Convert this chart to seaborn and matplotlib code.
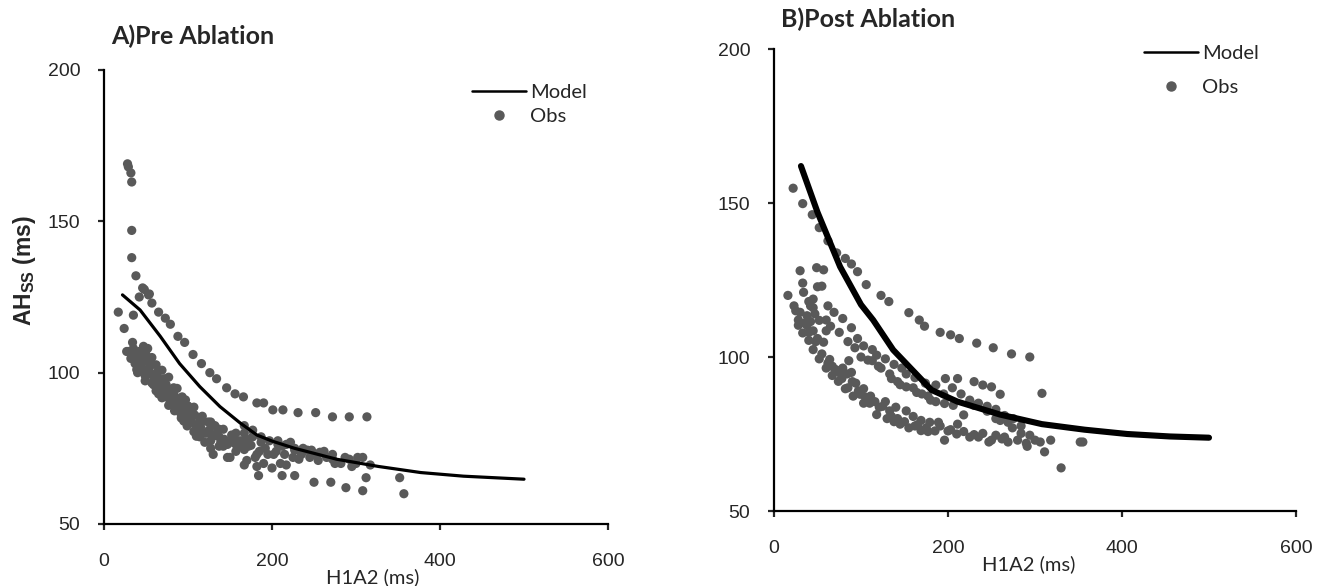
import matplotlib
matplotlib.use("Agg")
import matplotlib.pyplot as plt
import seaborn as sns
import pandas as pd
from matplotlib.lines import Line2D

# --- data ---
pre_model_h1a2 = [22, 43, 67, 90, 114, 138, 162, 182, 200, 227, 277, 327, 377, 428, 500]
pre_model_ah = [125.7, 120.7, 112, 103, 95.4, 88.8, 83.4, 79.4, 77.4, 75, 71.4, 69, 67, 65.8, 64.8]

pre_obs_h1a2 = [
    28, 29, 32, 33, 33, 33, 38, 46, 54, 42, 17, 35, 24, 57, 48, 53,
    65, 73, 79, 88, 96, 106, 116, 126, 134, 146, 156, 166, 182, 190, 201, 213,
    231, 252, 272, 292, 313,
    29, 42, 34, 47, 39, 49, 54, 62, 67, 74, 82, 92, 102, 112, 127, 137,
    147, 167, 182, 184, 200, 212, 227, 250, 270, 288, 308, 312, 352, 357,
    317, 308, 292, 282, 272, 262, 252, 247, 237, 232, 227, 222, 212, 217, 207, 202,
    197, 192, 187, 180, 177, 172, 167, 162, 157, 152, 147, 142, 137, 132, 127, 124,
    119, 114, 109, 104, 99, 94, 89, 84, 79, 74, 69, 64, 59, 54, 49, 44,
    37, 32, 52, 57, 62, 69, 77, 87, 97, 107, 117, 127, 137, 157, 167, 177,
    187, 207, 217, 227, 242, 257, 272, 287, 302, 167, 157, 182, 142, 114, 107, 99,
    92, 84, 77, 69, 62, 57, 49, 42, 37, 27,
    35, 40, 45, 50, 55, 58, 63, 66, 70, 72, 76, 80, 83, 86, 90, 93,
    97, 100, 104, 108, 111, 115, 118, 122, 125, 130, 134, 139, 143, 150, 155, 160,
    165, 170, 175, 185, 195, 205, 215, 225, 235, 245, 255, 265, 275, 295, 300, 40,
    47, 65, 85, 95, 110, 120, 130, 150, 170, 190, 210,
]
pre_obs_ah = [
    169, 168, 166, 163, 147, 138, 132, 128, 126, 125, 120, 119, 114.6, 123, 127.5, 125.7,
    120, 118, 116, 112, 110, 106, 103, 100, 98, 95, 93, 92, 90, 90, 87.7, 87.7,
    86.8, 86.8, 85.4, 85.4, 85.4,
    107, 107, 110, 108.7, 101, 104.7, 100, 97, 94.8, 92, 89.8, 86, 83.7, 80, 77.5, 75.7,
    72, 69.5, 69, 66, 68.5, 66, 66, 63.8, 63.8, 62, 61, 65.3, 65.3, 60,
    69.5, 72, 71.4, 70, 71.4, 74, 73, 74.4, 75, 71.4, 74.4, 77, 75.7, 69.5, 76.3, 73,
    77.5, 75, 77, 72, 78.8, 75.7, 80, 77.5, 74, 79.4, 76.3, 81.3, 78.8, 82.5, 75, 83.7,
    80, 85, 82.5, 87.4, 84.3, 89.8, 87.4, 92.3, 90.5, 96, 93, 98.5, 96, 101.6, 99, 104.7,
    103, 104.7, 108, 105, 102.6, 100.8, 98.5, 94.8, 91, 88.6, 85.6, 83.7, 81.3, 80, 82.5, 81,
    78.8, 77.5, 76.3, 75, 74.4, 73.7, 73, 72, 72, 74.6, 76.3, 73, 75.7, 78.8, 80.5, 82.4,
    85, 87.4, 89.2, 91.7, 94, 96.6, 97.3, 101, 106.6, 107,
    108, 105, 103, 106, 103, 99, 100, 97, 96, 98, 94, 93, 95, 91, 89, 92,
    87, 89, 85, 86, 83, 82, 84, 80, 81, 79, 80, 77, 78, 77, 78, 76,
    77, 78, 76, 74, 73, 74, 73, 72, 73, 72, 71, 72, 70, 69, 70, 100,
    101, 93, 88, 84, 79, 77, 73, 72, 71, 70, 70,
]

post_model_h1a2 = [31, 50, 76, 100, 114, 137, 160, 181, 211, 260, 308, 357, 406, 455, 500]
post_model_ah = [162, 147, 129.3, 117, 112, 102.3, 95.5, 89.3, 85.5, 81.3, 78.2, 76.4, 75, 74.2, 73.8]

post_obs_h1a2 = [
    22, 33, 44, 52, 62, 72, 82, 89, 96, 106, 123, 132, 155, 167, 173, 191,
    203, 213, 233, 252, 273, 294, 308, 318, 330, 352, 355,
    30, 33, 49, 57, 50, 55, 62, 69, 79, 89, 96, 103, 113, 118, 128, 138,
    147, 152, 162, 174, 186, 197, 211, 230, 240, 250, 260, 113, 123, 133, 142, 152,
    164, 177, 186, 196, 206, 218, 230, 245, 255, 260, 269, 274, 284, 284, 294, 306,
    311, 291, 89, 77, 72,
    16, 23, 30, 38, 42, 38, 45, 47, 52, 50, 57, 60, 64, 67, 74, 79,
    84, 86, 94, 99, 103, 111, 116, 121, 128, 133, 135, 140, 145, 152, 160, 169,
    169, 179, 189, 196, 203, 211, 218, 230, 240, 247, 255, 262, 269, 191, 177, 162,
    142, 118, 103, 91, 82, 74, 67, 60, 52, 45, 40, 33, 28, 42, 45, 34,
    25, 28, 35, 40, 48, 55, 62, 70, 78, 85, 90, 97, 105, 110, 125, 130,
    138, 150, 155, 165, 175, 185, 200, 210, 225, 235, 250, 265, 280, 290, 300,
    40, 45, 60, 65, 75, 85, 93, 100, 108, 120, 135, 145, 160, 170, 180, 195,
    205, 215, 225, 235, 245, 255, 265, 275,
]
post_obs_ah = [
    154.8, 149.8, 146.2, 142, 137.7, 133.8, 132, 130.2, 127.7, 123.5, 120, 118, 114.4, 112, 110, 108,
    107.2, 106, 104.5, 103, 101, 100, 88.2, 73, 64, 72.4, 72.4,
    128, 124, 129, 128.3, 122.8, 123, 116.6, 114.5, 112.5, 109.5, 106, 103.6, 102.4, 100.6, 99.4, 97.6,
    96.4, 94.5, 93.3, 91.5, 90.9, 93, 93, 92, 90.9, 90.3, 87.9, 98.8, 96.4, 94.5, 92, 90.3,
    88.5, 87.3, 85.5, 84.9, 84.3, 81.2, 84.3, 82.4, 80, 79.4, 78.8, 77, 77.6, 75.2, 74.6, 72.4,
    69.2, 71, 95, 94.5, 95.7,
    120, 116.6, 114.5, 113.4, 111.5, 110.3, 108.5, 114, 111.9, 106, 104.8, 108.5, 99.2, 97, 95.2, 96.4,
    94.5, 98.8, 91.5, 87.9, 89.7, 87.3, 85.5, 83.7, 85.5, 82.5, 80.7, 83.7, 78.2, 82.5, 80.7, 79.4,
    76.1, 78.8, 78.8, 73, 76.4, 78.2, 75.8, 74.8, 75.2, 72.4, 74.6, 73.4, 72.4, 77.6, 75.8, 77.6,
    80, 81.3, 85, 87.3, 89.7, 92.1, 94, 96.4, 99.4, 102.4, 105.4, 107.8, 110.3, 116.6, 118.8, 121,
    115, 112, 111, 108, 105, 101, 98, 96, 93, 90, 92, 89, 87, 85, 84, 80,
    79, 79, 77, 78, 77, 76, 76, 75, 74, 74, 73, 74, 73, 72, 73,
    118, 116, 112, 110, 108, 105, 103, 100, 99, 97, 93, 91, 90, 88, 86, 88,
    90, 88, 86, 85, 84, 83, 81, 80,
]

x_ticks = [0, 200, 400, 600]
y_ticks = [50, 100, 150, 200]

# --- styling ---
sns.set_style("ticks")
plt.rcParams["font.family"] = ["Liberation Sans", "DejaVu Sans"]
plt.rcParams["mathtext.fontset"] = "custom"
plt.rcParams["mathtext.rm"] = "Liberation Sans"
plt.rcParams["mathtext.bf"] = "Liberation Sans:bold"

dot_color = "#595959"

fig = plt.figure(figsize=(13.25, 5.86), dpi=100)
ax1 = fig.add_axes([104 / 1325, 1 - 524 / 586, 504 / 1325, 454 / 586])
ax2 = fig.add_axes([774 / 1325, 1 - 511 / 586, 522 / 1325, 462 / 586])

# (axes, obs x, obs y, model x, model y, model width, legend anchor px, legend spacing)
panels = [
    (ax1, pre_obs_h1a2, pre_obs_ah, pre_model_h1a2, pre_model_ah, 2.3, (472, 84), 0.33),
    (ax2, post_obs_h1a2, post_obs_ah, post_model_h1a2, post_model_ah, 4.4, (1144, 45), 0.85),
]

for ax, ox, oy, mx, my, lw, anchor, spacing in panels:
    obs = pd.DataFrame({"H1A2": ox, "AH": oy})
    model = pd.DataFrame({"H1A2": mx, "AH": my})
    sns.scatterplot(data=obs, x="H1A2", y="AH", ax=ax, color=dot_color,
                    s=44, edgecolor="none", zorder=2)
    sns.lineplot(data=model, x="H1A2", y="AH", ax=ax, color="black",
                 linewidth=lw, zorder=3, sort=True)
    ax.set_xlim(0, 600)
    ax.set_ylim(50, 200)
    ax.set_xticks(x_ticks)
    ax.set_yticks(y_ticks)
    ax.set_xlabel("")
    ax.set_ylabel("")
    for s in ["top", "right"]:
        ax.spines[s].set_visible(False)
    for s in ["left", "bottom"]:
        ax.spines[s].set_linewidth(1.6)
        ax.spines[s].set_color("black")
    ax.tick_params(axis="x", direction="out", length=4, width=1.6, labelsize=14, pad=17)
    ax.tick_params(axis="y", direction="out", length=4, width=1.6, labelsize=14, pad=13)
    handles = [
        Line2D([], [], color="black", linewidth=1.8),
        Line2D([], [], color=dot_color, marker="o", linestyle="none", markersize=6.5),
    ]
    ax.legend(handles, ["Model", "Obs"], loc="upper left",
              bbox_to_anchor=(anchor[0] / 1325, 1 - anchor[1] / 586),
              bbox_transform=fig.transFigure, borderpad=0, borderaxespad=0,
              frameon=False, handlelength=2.7, handletextpad=0.2, labelspacing=spacing,
              prop={"family": "Lato", "size": 14.5})

# titles and axis labels
fig.text(111 / 1325, 1 - 36 / 586, "A)Pre Ablation", fontsize=18, fontweight="bold",
         family="Lato", va="center", ha="left")
fig.text(781 / 1325, 1 - 19 / 586, "B)Post Ablation", fontsize=18, fontweight="bold",
         family="Lato", va="center", ha="left")
fig.text(25 / 1325, 1 - 271 / 586, r"AH$_{\mathbf{SS}}$ (ms)", fontsize=16.5,
         fontweight="bold", rotation=90, va="center", ha="center")
fig.text(373 / 1325, 1 - 577 / 586, "H1A2 (ms)", fontsize=14.5, family="Lato",
         va="center", ha="center")
fig.text(1029 / 1325, 1 - 564 / 586, "H1A2 (ms)", fontsize=14.5, family="Lato",
         va="center", ha="center")

fig.savefig("out.png", dpi=100)
